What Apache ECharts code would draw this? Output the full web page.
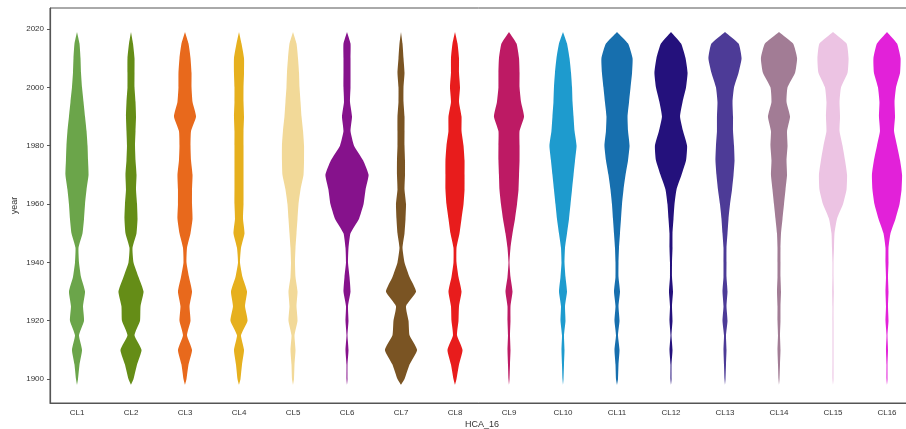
<!DOCTYPE html>
<html>
<head>
<meta charset="utf-8">
<script src="https://cdn.jsdelivr.net/npm/echarts@6/dist/echarts.min.js"></script>
<style>
  html, body { margin: 0; padding: 0; background: #fff; }
  #chart { width: 906px; height: 429px; }
</style>
</head>
<body>
<div id="chart"></div>
<script>
// Categories and density profiles (kernel density, arbitrary units) at each year
var categories = ['CL1', 'CL2', 'CL3', 'CL4', 'CL5', 'CL6', 'CL7', 'CL8',
                  'CL9', 'CL10', 'CL11', 'CL12', 'CL13', 'CL14', 'CL15', 'CL16'];
var years = [1898, 1900, 1905, 1910, 1915, 1920, 1925, 1930, 1935, 1940, 1945, 1950, 1955,
             1960, 1965, 1970, 1975, 1980, 1985, 1990, 1995, 2000, 2005, 2010, 2015, 2019];
var yearTicks = [1900, 1920, 1940, 1960, 1980, 2000, 2020];

var densCL1  = [0, 2, 5, 10, 4, 14, 12, 16, 8, 4, 3, 11, 14, 16, 19, 23, 22, 21, 19, 16, 13, 10, 8, 7, 5, 0];
var densCL2  = [0, 5, 12, 21, 7, 18, 19, 25, 15, 5, 3, 11, 13, 12, 10, 11, 9, 8, 9, 10, 9, 7, 7, 7, 4, 0];
var densCL3  = [0, 3, 7, 14, 4, 11, 9, 14, 8, 3, 4, 11, 15, 14, 14, 15, 12, 11, 12, 22, 15, 13, 13, 11, 7, 0];
var densCL4  = [0, 3, 6, 10, 4, 17, 12, 16, 7, 2, 4, 11, 8, 9, 9, 9, 9, 9, 9, 10, 9, 9, 10, 10, 5, 0];
var densCL5  = [0, 2, 3, 5, 3, 9, 7, 9, 5, 4, 5, 7, 9, 11, 15, 21, 22, 22, 20, 17, 15, 13, 12, 10, 7, 0];
var densCL6  = [0, 1, 1, 3, 1, 3, 2, 7, 5, 2, 3, 7, 24, 33, 37, 43, 32, 14, 7, 10, 6, 7, 7, 7, 7, 0];
var densCL7  = [0, 7, 17, 32, 17, 15, 10, 30, 17, 7, 3, 7, 9, 10, 7, 8, 8, 7, 7, 7, 5, 5, 7, 5, 3, 0];
var densCL8  = [0, 3, 8, 15, 4, 7, 8, 13, 7, 3, 3, 9, 13, 17, 19, 19, 19, 17, 13, 13, 8, 10, 8, 8, 5, 0];
var densCL9  = [0, 1, 2, 3, 2, 3, 3, 7, 3, 1, 3, 7, 12, 16, 19, 20, 21, 21, 21, 30, 24, 21, 21, 20, 15, 0];
var densCL10 = [0, 1, 2, 3, 2, 5, 4, 8, 5, 3, 4, 8, 12, 15, 18, 21, 24, 27, 23, 21, 19, 18, 16, 13, 8, 0];
var densCL11 = [0, 2, 3, 5, 2, 5, 3, 6, 3, 3, 4, 6, 8, 10, 13, 17, 22, 25, 22, 21, 24, 27, 30, 31, 22, 0];
var densCL12 = [0, 1, 1, 3, 1, 3, 2, 4, 2, 2, 3, 3, 5, 7, 11, 21, 30, 32, 24, 18, 23, 30, 33, 29, 20, 0];
var densCL13 = [0, 1, 2, 3, 2, 5, 3, 5, 3, 3, 3, 5, 7, 10, 14, 17, 19, 18, 16, 16, 15, 18, 27, 33, 27, 0];
var densCL14 = [0, 1, 2, 3, 2, 3, 3, 4, 3, 3, 3, 4, 7, 10, 13, 16, 15, 17, 16, 22, 15, 17, 32, 36, 28, 0];
var densCL15 = [0, 1, 1, 1, 1, 1, 1, 1.5, 1, 1, 2, 3, 8, 20, 27, 28, 24, 19, 13, 14, 13, 16, 29, 31, 27, 0];
var densCL16 = [0, 1, 1, 2, 1, 3, 2, 3, 2, 3, 3, 7, 17, 25, 29, 30, 26, 20, 14, 16, 15, 18, 26, 27, 20, 0];

var densities = [densCL1, densCL2, densCL3, densCL4, densCL5, densCL6, densCL7, densCL8,
                 densCL9, densCL10, densCL11, densCL12, densCL13, densCL14, densCL15, densCL16];

var colors = ['#6ba54a', '#658d17', '#e8691c', '#e6b01e', '#f2d998', '#86128c', '#7a5423', '#e81c1c',
              '#bd1a64', '#1e9bce', '#176fae', '#24117c', '#4d3b97', '#a27c95', '#ecc3e3', '#e221d9'];

var maxDens = 43; // widest violin fills 80% of its band

function renderViolin(params, api) {
  var i = params.dataIndex;
  var dens = densities[i];
  var band = api.size([1, 0])[0];
  var left = [], right = [];
  for (var k = 0; k < years.length; k++) {
    var c = api.coord([i, years[k]]);
    var hw = dens[k] / maxDens * 0.4 * band;
    left.push([c[0] - hw, c[1]]);
    right.push([c[0] + hw, c[1]]);
  }
  var pts = left.concat(right.reverse());
  return {
    type: 'polygon',
    shape: { points: pts, smooth: 0.15 },
    style: { fill: colors[i], stroke: null }
  };
}

var chart = echarts.init(document.getElementById('chart'));
var axisFont = { fontFamily: 'Liberation Sans, Arial, sans-serif', fontSize: 8, color: '#333' };

chart.setOption({
  animation: false,
  grid: {
    left: 50, top: 8, width: 864, height: 395,
    outerBoundsMode: 'none',
    containLabel: false,
    show: true, borderColor: '#555', borderWidth: 1, backgroundColor: '#fff'
  },
  xAxis: {
    type: 'category',
    data: categories,
    name: 'HCA_16',
    nameLocation: 'middle',
    nameGap: 17,
    nameMoveOverlap: false,
    nameTextStyle: { fontFamily: 'Liberation Sans, Arial, sans-serif', fontSize: 9, color: '#333' },
    axisLine: { lineStyle: { color: '#555', width: 1.2 } },
    axisTick: { alignWithLabel: true, length: 3, lineStyle: { color: '#555' } },
    axisLabel: Object.assign({ margin: 6 }, axisFont),
    splitLine: { show: false }
  },
  yAxis: {
    type: 'value',
    min: 1891.8,
    max: 2027.2,
    name: 'year',
    nameLocation: 'middle',
    nameGap: 31,
    nameMoveOverlap: false,
    nameRotate: 90,
    nameTextStyle: { fontFamily: 'Liberation Sans, Arial, sans-serif', fontSize: 9, color: '#333' },
    axisLine: { show: true, lineStyle: { color: '#555', width: 1.2 } },
    axisTick: { show: true, length: 3, lineStyle: { color: '#555' }, customValues: yearTicks },
    axisLabel: Object.assign({
      margin: 6,
      customValues: yearTicks,
      formatter: function (v) { return String(Math.round(v)); }
    }, axisFont),
    splitLine: { show: false }
  },
  series: [{
    type: 'custom',
    renderItem: renderViolin,
    data: categories.map(function (c, i) { return [i, 1960]; }),
    encode: { x: 0, y: 1 },
    silent: true
  }]
});
</script>
</body>
</html>
